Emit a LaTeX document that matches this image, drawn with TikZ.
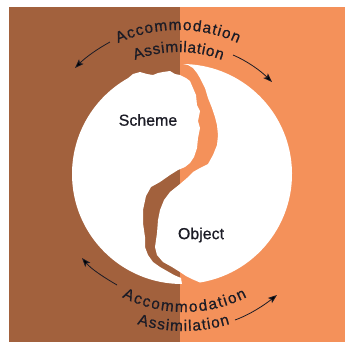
\documentclass[tikz,border=0pt]{standalone}
\usepackage{fontspec}
\setmainfont{Liberation Sans}
\newfontfamily\lblfont{Liberation Sans}[FakeBold=0.7]
\usetikzlibrary{decorations.text,arrows.meta}
\definecolor{bgbrown}{HTML}{A2613D}
\definecolor{bgorange}{HTML}{F4915A}
\definecolor{ink}{HTML}{1C1C26}
\newcommand\arcfont{\lblfont\fontsize{15.5}{15.5}\selectfont}
\begin{document}
\begin{tikzpicture}[x=1bp,y=-1bp,
  lobe/.style={fill=white},
  lbl/.style={font=\lblfont\fontsize{16}{16}\selectfont, text=ink, inner sep=0pt},
  cycarrow/.style={draw=ink, line width=0.8bp, -{Stealth[length=9bp,width=6.5bp,inset=2bp]}},
  arctext/.style={decorate, decoration={text along path, text align=fit to path, text color=ink, text={#1}}}
]
\useasboundingbox (0,0) rectangle (345,344);
\fill[white] (0,0) rectangle (345,344);
\fill[bgbrown] (9,7) rectangle (180.5,342);
\fill[bgorange] (180,7) rectangle (345,342);

% left lobe (Scheme)
\fill[lobe] (128,78.2) -- (133,74) -- (140,72) -- (147,74) -- (153,75) -- (158,73) -- (163,72)
  -- (170,71) -- (175,74) -- (180,75) -- (186,78) -- (190,81) -- (193,88) -- (196,95)
  -- (197,105) -- (200,111) -- (198,121) -- (200,128) -- (198,138) -- (197,148)
  -- (194,157) -- (190,163) -- (185,167) -- (178,170) -- (170,175) -- (160,182)
  -- (151,187) -- (146,196) -- (143,210) -- (143,223) -- (145,237) -- (145,247)
  -- (148,255) -- (153,262) -- (160,267) -- (167,271) -- (174,275) -- (181,278)
  -- (182,284) arc[start angle=90, end angle=240.6, radius=110] -- cycle;

% right lobe (Object)
\fill[lobe] (183,64) -- (188,65) -- (193,68) -- (197,73) -- (200,78) -- (205,88) -- (208,98)
  -- (212,108) -- (215,117) -- (217,125) -- (218,135) -- (217,145) -- (213,155)
  -- (208,164) -- (200,168) -- (193,172) -- (187,178) -- (180,184) -- (170,192)
  -- (164,200) -- (160,210) -- (158,220) -- (157,233) -- (155,247) -- (157,255)
  -- (163,262) -- (172,267) -- (180,272) -- (186,276) -- (193,279.5)
  -- (199.97,282.52) arc[start angle=80.6, end angle=-89.5, radius=110] -- cycle;

\node[lbl] (scheme) at (148,120) {Scheme};
\node[lbl] (object) at (201,235) {Object};

% curved labels
\path[arctext={|\arcfont|Accommodation}] ([shift={(-114.6:144)}]178,174) arc[start angle=-114.6, end angle=-65.4, radius=144];
\path[arctext={|\arcfont|Assimilation}] ([shift={(-110.9:122)}]178.5,174) arc[start angle=-110.9, end angle=-69.1, radius=122];
\path[arctext={|\arcfont|Accommodation}] ([shift={(116.9:138)}]184.5,174) arc[start angle=116.9, end angle=63.1, radius=138];
\path[arctext={|\arcfont|Assimilation}] ([shift={(107.2:157)}]183.5,174) arc[start angle=107.2, end angle=72.8, radius=157];

% arrows
\coordinate (tlA) at (110,42);  \coordinate (tlB) at (75,68);
\coordinate (trA) at (233,55);  \coordinate (trB) at (272,82);
\coordinate (blA) at (117,285); \coordinate (blB) at (82,258);
\coordinate (brA) at (235,320); \coordinate (brB) at (277,295);
\draw[cycarrow] (tlA) .. controls +(-12.9,7.0) and +(10.3,-10.4) .. (tlB);
\draw[cycarrow] (trA) .. controls +(14.7,6.3) and +(-11.4,-11.2) .. (trB);
\draw[cycarrow] (blA) .. controls +(-12.8,-7.5) and +(9.5,11.3) .. (blB);
\draw[cycarrow] (brA) .. controls +(15.3,-5.6) and +(-12.8,10.1) .. (brB);
\end{tikzpicture}
\end{document}
